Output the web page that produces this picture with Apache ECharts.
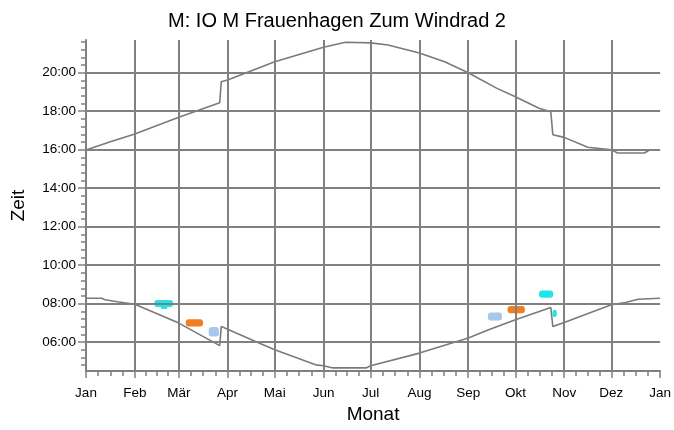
<!DOCTYPE html>
<html>
<head>
<meta charset="utf-8">
<script src="https://cdn.jsdelivr.net/npm/echarts@6/dist/echarts.min.js"></script>
<style>
  html, body { margin: 0; padding: 0; background: #fff; }
  #chart { width: 674px; height: 430px; }
</style>
</head>
<body>
<div id="chart"></div>
<script>
// Monatsanfaenge (Tag im Jahr) und Beschriftung
const monthStarts = [0, 31, 59, 90, 120, 151, 181, 212, 243, 273, 304, 334, 365];
const monthNames = ['Jan', 'Feb', 'Mär', 'Apr', 'Mai', 'Jun', 'Jul', 'Aug', 'Sep', 'Okt', 'Nov', 'Dez', 'Jan'];
const hourTicks = [6, 8, 10, 12, 14, 16, 18, 20];
const hourLabels = ['06:00', '08:00', '10:00', '12:00', '14:00', '16:00', '18:00', '20:00'];

// Sonnenuntergang (Stunden)
const sunsetDays = [0, 15, 31, 59, 85, 86, 90, 120, 151, 165, 181, 192, 212, 228, 243, 261, 273, 288, 295.5, 296.8, 304, 319, 334, 338, 355, 358, 365];
const sunsetHours = [15.98, 16.4, 16.82, 17.68, 18.44, 19.53, 19.62, 20.57, 21.32, 21.58, 21.55, 21.44, 21.02, 20.57, 20.0, 19.2, 18.75, 18.15, 17.97, 16.78, 16.64, 16.13, 15.99, 15.83, 15.83, 15.97, 16.0];

// Sonnenaufgang (Stunden)
const sunriseDays = [0, 10, 12, 20, 31, 59, 85, 86, 90, 110, 120, 146, 151, 157, 178, 181, 212, 243, 256, 273, 295.5, 296.8, 304, 334, 343, 351, 365];
const sunriseHours = [8.28, 8.28, 8.2, 8.1, 7.97, 6.99, 5.82, 6.82, 6.67, 5.95, 5.6, 4.82, 4.77, 4.66, 4.66, 4.77, 5.43, 6.21, 6.64, 7.16, 7.8, 6.81, 7.02, 7.94, 8.06, 8.23, 8.28];

// Schattenwurfzeiten: [von Tag, bis Tag], [von Uhrzeit, bis Uhrzeit], Farbe
const shadowDays = [[43.4, 55.4], [47.6, 51.8], [63.4, 74.4], [78, 84.5], [255.5, 264.5], [268, 279], [288, 297], [296.6, 299.3]];
const shadowHours = [[7.83, 8.19], [7.72, 7.85], [6.81, 7.19], [6.29, 6.78], [7.12, 7.54], [7.5, 7.88], [8.3, 8.68], [7.3, 7.68]];
const shadowKind = [0, 0, 1, 2, 2, 1, 0, 0];
const shadowColors = ['#1ee6e8', '#f07d1e', '#a6c8ec'];

const gray = '#808080';
const font = 'Liberation Sans, Arial, sans-serif';

// Viertelmonats-Teilstriche
const quarterTicks = [];
for (let i = 0; i < 12; i++) {
  const len = monthStarts[i + 1] - monthStarts[i];
  for (let k = 1; k < 4; k++) quarterTicks.push(monthStarts[i] + len * k / 4);
}
const minorHours = [];
for (let h = 4.8; h < 21.65; h += 0.4) minorHours.push(Math.round(h * 10) / 10);

const chart = echarts.init(document.getElementById('chart'));

const gridLines = monthStarts.slice(1, 12).map(d => ({ xAxis: d }))
  .concat(hourTicks.map(h => ({ yAxis: h })));

chart.setOption({
  animation: false,
  title: {
    text: 'M: IO M Frauenhagen Zum Windrad 2',
    left: 'center',
    top: 6,
    textStyle: { fontFamily: font, fontSize: 20, fontWeight: 'normal', color: '#000' }
  },
  grid: { left: 86, right: 11, top: 40, bottom: 59 },
  xAxis: [{
    type: 'value', position: 'bottom', min: 0, max: 365,
    name: 'Monat', nameLocation: 'middle', nameGap: 32,
    nameTextStyle: { fontFamily: font, fontSize: 19, color: '#000' },
    axisLine: { lineStyle: { color: gray, width: 2 } },
    axisTick: { customValues: monthStarts, length: 7, lineStyle: { color: gray, width: 1.5 } },
    axisLabel: {
      customValues: monthStarts, margin: 15,
      fontFamily: font, fontSize: 13.5, color: '#000',
      formatter: v => monthNames[monthStarts.indexOf(v)]
    },
    splitLine: { show: false }
  }, {
    type: 'value', position: 'bottom', min: 0, max: 365,
    axisLine: { show: false },
    axisTick: { customValues: quarterTicks, length: 5, lineStyle: { color: gray, width: 1.5 } },
    axisLabel: { show: false },
    splitLine: { show: false }
  }],
  yAxis: [{
    type: 'value', position: 'left', min: 4.5, max: 21.7,
    name: 'Zeit', nameLocation: 'middle', nameGap: 58, nameRotate: 90,
    nameTextStyle: { fontFamily: font, fontSize: 19, color: '#000', padding: [0, 0, 0, 0] },
    axisLine: { show: true, lineStyle: { color: gray, width: 2 } },
    axisTick: { show: true, customValues: hourTicks, length: 8, lineStyle: { color: gray, width: 1.5 } },
    axisLabel: {
      customValues: hourTicks, margin: 10,
      fontFamily: font, fontSize: 13.5, color: '#000',
      formatter: v => hourLabels[hourTicks.indexOf(v)]
    },
    splitLine: { show: false }
  }, {
    type: 'value', position: 'left', min: 4.5, max: 21.7,
    axisLine: { show: false },
    axisTick: { show: true, customValues: minorHours, length: 5, lineStyle: { color: gray, width: 1.5 } },
    axisLabel: { show: false },
    splitLine: { show: false }
  }],
  series: [{
    type: 'line', data: [], z: 1, silent: true,
    markLine: {
      silent: true, symbol: 'none', label: { show: false },
      lineStyle: { color: gray, width: 2, type: 'solid' },
      data: gridLines
    }
  }, {
    type: 'custom', z: 2, silent: true,
    data: shadowDays.map((d, i) => [d[0], d[1], shadowHours[i][0], shadowHours[i][1], shadowKind[i]]),
    encode: { x: [0, 1], y: [2, 3] },
    renderItem: (params, api) => {
      const a = api.coord([api.value(0), api.value(3)]);
      const b = api.coord([api.value(1), api.value(2)]);
      return {
        type: 'rect',
        shape: { x: a[0], y: a[1], width: b[0] - a[0], height: b[1] - a[1], r: 3 },
        style: { fill: shadowColors[api.value(4)] }
      };
    }
  }, {
    type: 'line', z: 3, silent: true, symbol: 'none',
    data: sunsetDays.map((d, i) => [d, sunsetHours[i]]),
    lineStyle: { color: '#7a7a7a', width: 1.6 }
  }, {
    type: 'line', z: 3, silent: true, symbol: 'none',
    data: sunriseDays.map((d, i) => [d, sunriseHours[i]]),
    lineStyle: { color: '#7a7a7a', width: 1.6 }
  }]
});

window.addEventListener('resize', () => chart.resize());
</script>
</body>
</html>
